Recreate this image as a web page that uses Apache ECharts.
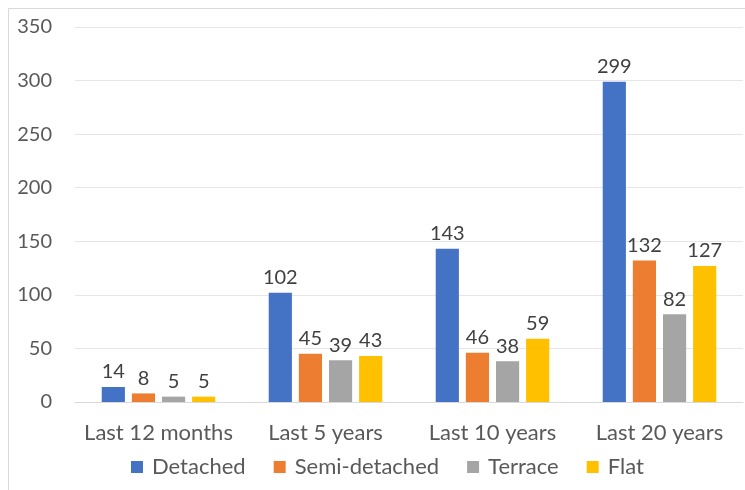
<!DOCTYPE html>
<html><head><meta charset="utf-8">
<script src="https://cdn.jsdelivr.net/npm/echarts@6/dist/echarts.min.js"></script>
<style>html,body{margin:0;padding:0;background:#fff}#c{width:745px;height:490px}</style>
</head><body><div id="c"></div>
<script>
const categories = ['Last 12 months', 'Last 5 years', 'Last 10 years', 'Last 20 years'];
const detached = [14, 102, 143, 299];
const semiDetached = [8, 45, 46, 132];
const terrace = [5, 39, 38, 82];
const flat = [5, 43, 59, 127];
const seriesNames = ['Detached', 'Semi-detached', 'Terrace', 'Flat'];
const colors = ['#4472C4', '#ED7D31', '#A5A5A5', '#FFC000'];
const yTicks = [0, 50, 100, 150, 200, 250, 300, 350];

const FONT = 'Lato';
const chart = echarts.init(document.getElementById('c'));
const data = [detached, semiDetached, terrace, flat];
chart.setOption({
  animation: false,
  graphic: [{type: 'rect', shape: {x: 8.5, y: 8.5, width: 760, height: 500}, style: {fill: 'none', stroke: '#d9d9d9', lineWidth: 1}}],
  grid: {left: 75, width: 668, top: 27, bottom: 88},
  legend: {
    bottom: 7, left: 126, itemWidth: 12, itemHeight: 12, itemGap: 28,
    icon: 'rect',
    textStyle: {fontFamily: FONT, fontSize: 22, color: '#595959', padding: [0, 0, 0, 4]},
    data: seriesNames
  },
  xAxis: {
    type: 'category', data: categories,
    axisLine: {show: true, lineStyle: {color: '#d9d9d9'}},
    axisTick: {show: false},
    axisLabel: {interval: 0, fontFamily: FONT, fontSize: 22, color: '#595959', margin: 20}
  },
  yAxis: {
    type: 'value', min: 0, max: 350, interval: 50,
    axisLine: {show: false}, axisTick: {show: false},
    splitLine: {lineStyle: {color: '#e6e6e6'}},
    axisLabel: {fontFamily: FONT, fontSize: 20, color: '#595959', margin: 23,
      formatter: v => yTicks.includes(v) ? String(v) : ''}
  },
  series: seriesNames.map((n, i) => ({
    name: n, type: 'bar', data: data[i],
    barGap: '30%', barCategoryGap: '32%',
    itemStyle: {color: colors[i]},
    label: {show: true, position: 'top', distance: 5, fontFamily: FONT, fontSize: 20, color: '#404040'}
  }))
});
</script></body></html>
